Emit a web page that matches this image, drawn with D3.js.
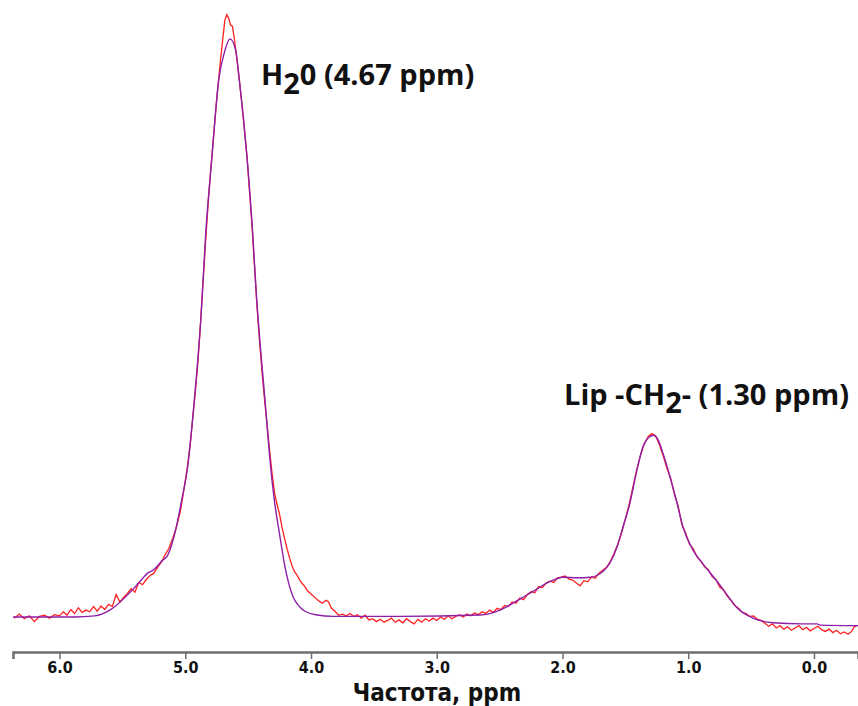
<!DOCTYPE html>
<html>
<head>
<meta charset="utf-8">
<script src="https://cdn.jsdelivr.net/npm/d3@7"></script>
<style>
  html, body { margin: 0; padding: 0; background: #fff; }
  svg { display: block; }
  .tick text { font-family: "DejaVu Sans Condensed", "DejaVu Sans", sans-serif; font-weight: bold; }
</style>
</head>
<body>
<svg id="chart" width="858" height="706"></svg>
<script>
// axis ticks (ppm)
const tickValues = [6, 5, 4, 3, 2, 1, 0];

// fitted spectrum (purple), [ppm, intensity]
const fitted = [
  [6.37, 0.0], [5.88, 0.0], [5.72, 0.2], [5.60, 1.2], [5.42, 4.7], [5.35, 6.4],
  [5.30, 7.6], [5.256, 8.1], [5.177, 9.9], [5.145, 10.5], [5.082, 14.6],
  [5.028, 20.3], [4.981, 26.0], [4.928, 37.6], [4.875, 52.0], [4.837, 66.6],
  [4.790, 79.2], [4.734, 93.1], [4.692, 97.6], [4.644, 100.2], [4.60, 98.3],
  [4.57, 93.1], [4.507, 79.2], [4.464, 66.6], [4.437, 56.7], [4.366, 37.6],
  [4.321, 26.0], [4.292, 20.3], [4.252, 14.6], [4.207, 8.7], [4.143, 3.5],
  [4.087, 1.7], [4.048, 1.0], [3.952, 0.35], [3.825, 0.1], [3.29, 0.1],
  [2.656, 0.35], [2.497, 1.2], [2.394, 2.4], [2.30, 3.6], [2.20, 4.9],
  [2.123, 5.9], [2.05, 6.6], [1.996, 6.9], [1.884, 6.8], [1.781, 6.9],
  [1.702, 7.5], [1.622, 9.4], [1.567, 12.1], [1.519, 15.6], [1.463, 19.8],
  [1.408, 25.5], [1.360, 29.5], [1.32, 31.0], [1.278, 31.5], [1.24, 30.7],
  [1.201, 28.4], [1.145, 24.3], [1.090, 19.8], [1.042, 15.6], [0.962, 11.6],
  [0.883, 9.2], [0.771, 6.2], [0.69, 3.8], [0.612, 1.6], [0.485, -0.2],
  [0.326, -1.0], [0.10, -1.2], [-0.024, -1.2], [-0.05, -1.4], [-0.35, -1.5]
];

// measured spectrum (red), [ppm, intensity]
const measured = [
  [6.36, -0.2], [6.32, 0.5], [6.28, -0.3], [6.24, 0.2], [6.20, -0.8], [6.16, 0.1],
  [6.12, 0.3], [6.08, -0.2], [6.04, 0.4], [6.00, 0.2], [5.97, 0.9], [5.94, 0.3],
  [5.91, 1.3], [5.88, 0.6], [5.85, 1.6], [5.82, 0.8], [5.79, 1.2], [5.76, 0.9],
  [5.73, 1.8], [5.70, 1.0], [5.67, 1.9], [5.64, 1.3], [5.61, 2.2], [5.58, 1.8],
  [5.55, 3.9], [5.52, 2.6], [5.49, 3.4], [5.46, 4.1], [5.43, 4.9], [5.40, 4.3],
  [5.37, 6.0], [5.34, 5.6], [5.31, 6.5], [5.28, 7.2], [5.25, 7.6], [5.22, 8.6],
  [5.19, 9.5], [5.16, 10.8], [5.13, 11.9], [5.10, 13.6], [5.07, 15.6], [5.04, 18.2],
  [5.02, 20.8], [5.00, 23.6], [4.98, 26.5], [4.96, 30.1], [4.94, 34.5], [4.92, 39.0],
  [4.90, 44.0], [4.88, 50.5], [4.86, 57.5], [4.84, 64.5], [4.82, 71.0], [4.80, 76.8],
  [4.78, 82.0], [4.76, 87.2], [4.74, 92.0], [4.72, 96.5], [4.70, 100.5], [4.685, 103.5],
  [4.67, 104.4], [4.655, 103.8], [4.64, 102.6], [4.625, 102.4], [4.61, 100.3], [4.59, 96.8],
  [4.57, 93.0], [4.55, 89.0], [4.53, 84.5], [4.51, 80.0], [4.49, 74.0], [4.47, 68.0],
  [4.45, 61.0], [4.43, 54.0], [4.41, 48.0], [4.39, 42.5], [4.37, 37.8], [4.35, 33.5],
  [4.33, 29.0], [4.31, 25.0], [4.29, 21.5], [4.27, 19.5], [4.25, 17.8], [4.23, 15.5],
  [4.21, 13.6], [4.19, 11.8], [4.17, 10.2], [4.15, 8.8], [4.13, 7.8], [4.11, 7.2],
  [4.09, 6.4], [4.07, 5.8], [4.05, 5.3], [4.03, 4.6], [4.00, 4.0], [3.97, 3.4],
  [3.94, 2.8], [3.91, 2.4], [3.88, 2.9], [3.86, 2.6], [3.84, 1.6], [3.81, 1.0],
  [3.78, 0.3], [3.75, 0.5], [3.72, 0.2], [3.69, 0.6], [3.66, 0.1], [3.63, 0.4],
  [3.60, -0.2], [3.57, 0.3], [3.54, -0.5], [3.51, -0.3], [3.48, -0.8], [3.45, -0.4],
  [3.42, -0.9], [3.39, -0.6], [3.36, -0.2], [3.33, -0.9], [3.30, -0.5], [3.27, -1.0],
  [3.24, -0.3], [3.21, -0.8], [3.18, -1.2], [3.15, -0.4], [3.12, -0.9], [3.09, -0.3],
  [3.06, -0.7], [3.03, -0.2], [3.00, -0.6], [2.97, 0.0], [2.94, -0.4], [2.91, 0.2],
  [2.88, -0.3], [2.85, 0.1], [2.82, 0.4], [2.79, 0.0], [2.76, 0.5], [2.73, 0.2],
  [2.70, 0.7], [2.67, 0.4], [2.64, 0.9], [2.61, 0.6], [2.58, 1.2], [2.55, 0.8],
  [2.52, 1.5], [2.49, 1.3], [2.46, 2.0], [2.43, 1.8], [2.40, 2.6], [2.37, 2.4],
  [2.34, 3.3], [2.31, 3.0], [2.28, 3.9], [2.25, 4.4], [2.22, 4.2], [2.19, 5.3],
  [2.16, 5.1], [2.13, 5.9], [2.10, 6.2], [2.07, 6.0], [2.04, 6.8], [2.01, 6.9],
  [1.98, 7.1], [1.95, 6.6], [1.92, 6.4], [1.89, 5.9], [1.86, 5.4], [1.83, 6.3],
  [1.80, 6.1], [1.77, 6.9], [1.74, 6.7], [1.71, 7.6], [1.68, 8.1], [1.65, 8.6],
  [1.62, 9.6], [1.59, 11.0], [1.56, 12.6], [1.53, 14.6], [1.50, 17.0], [1.47, 19.5],
  [1.44, 22.5], [1.41, 25.5], [1.38, 28.0], [1.35, 30.0], [1.32, 31.2], [1.29, 31.8],
  [1.26, 31.4], [1.23, 29.9], [1.20, 28.0], [1.17, 25.8], [1.14, 24.0], [1.11, 21.3],
  [1.08, 19.2], [1.05, 16.0], [1.02, 14.5], [0.99, 12.6], [0.96, 11.8], [0.93, 10.4],
  [0.90, 9.7], [0.87, 8.7], [0.84, 8.2], [0.81, 7.0], [0.78, 6.5], [0.75, 5.2],
  [0.72, 4.7], [0.69, 3.6], [0.66, 2.9], [0.63, 2.0], [0.60, 1.5], [0.57, 0.8],
  [0.54, 0.6], [0.51, 0.1], [0.48, 0.2], [0.45, -0.4], [0.42, -0.6], [0.39, -1.1],
  [0.36, -1.6], [0.33, -1.2], [0.30, -1.9], [0.27, -1.5], [0.24, -2.1], [0.21, -1.7],
  [0.18, -2.3], [0.15, -1.9], [0.12, -1.5], [0.09, -2.2], [0.06, -1.8], [0.03, -2.4],
  [0.00, -2.0], [-0.03, -1.6], [-0.06, -2.2], [-0.09, -2.5], [-0.12, -2.1], [-0.15, -2.7],
  [-0.18, -2.3], [-0.21, -2.9], [-0.24, -2.6], [-0.27, -3.0], [-0.30, -2.5], [-0.32, -1.7],
  [-0.34, -1.5]
];

const svg = d3.select("#chart");

const x = d3.scaleLinear().domain([6.37, -0.35]).range([13, 858]);
const y = d3.scaleLinear().domain([0, 100]).range([617, 40]);

// x axis
const axisY = 652;
const axis = svg.append("g")
  .attr("transform", `translate(0,${axisY})`)
  .call(d3.axisBottom(x).tickValues(tickValues).tickFormat(d3.format(".1f")).tickSize(7).tickPadding(3));
axis.select(".domain").attr("stroke", "#6e6e6e").attr("stroke-width", 2.5);
axis.selectAll(".tick line").attr("stroke", "#6e6e6e").attr("stroke-width", 1.5);
axis.selectAll(".tick text").attr("fill", "#111").attr("font-size", 16);

svg.append("text")
  .attr("x", 437)
  .attr("y", 701)
  .attr("text-anchor", "middle")
  .attr("font-family", "'DejaVu Sans Condensed', 'DejaVu Sans', sans-serif")
  .attr("font-weight", "bold")
  .attr("font-size", 24)
  .attr("fill", "#111")
  .text("Частота, ppm");

const line = d3.line()
  .x(d => x(d[0]))
  .y(d => y(d[1]));

svg.append("path")
  .datum(measured)
  .attr("fill", "none")
  .attr("stroke", "#ff2020")
  .attr("stroke-width", 1.3)
  .attr("d", line);

svg.append("path")
  .datum(fitted)
  .attr("fill", "none")
  .attr("stroke", "#8e1fa6")
  .attr("stroke-width", 1.4)
  .attr("d", line.curve(d3.curveMonotoneX));

// peak labels
const labelFont = "'Open Sans', 'DejaVu Sans', sans-serif";

const h2o = svg.append("text")
  .attr("x", 261)
  .attr("y", 85)
  .attr("font-family", labelFont)
  .attr("font-weight", "bold")
  .attr("font-size", 29)
  .attr("fill", "#111");
h2o.append("tspan").text("H");
h2o.append("tspan").attr("dy", 9).text("2");
h2o.append("tspan").attr("dy", -9).text("0 (4.67 ppm)");

const lip = svg.append("text")
  .attr("x", 564)
  .attr("y", 405)
  .attr("font-family", labelFont)
  .attr("font-weight", "bold")
  .attr("font-size", 29)
  .attr("fill", "#111");
lip.append("tspan").text("Lip -CH");
lip.append("tspan").attr("dy", 8).text("2");
lip.append("tspan").attr("dy", -8).text("- (1.30 ppm)");
</script>
</body>
</html>
